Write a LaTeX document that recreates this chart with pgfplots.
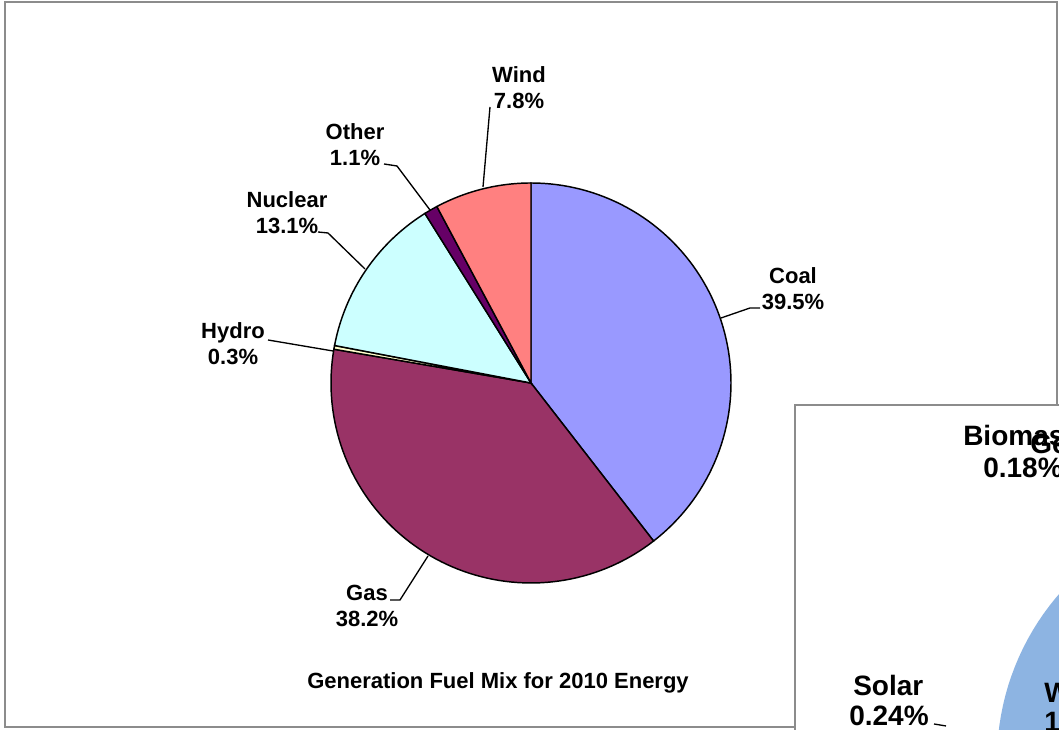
\documentclass[border=0pt]{standalone}
\usepackage{pgfplots}
\pgfplotsset{compat=1.18}
\usepackage{fontspec}
\setmainfont{Liberation Sans}
\definecolor{coal}{HTML}{9999FF}
\definecolor{gas}{HTML}{993366}
\definecolor{hydro}{HTML}{FFFFCC}
\definecolor{nuclear}{HTML}{CCFFFF}
\definecolor{other}{HTML}{660066}
\definecolor{wind}{HTML}{FF8080}
\definecolor{frame}{HTML}{8C8C8C}
\definecolor{pieblue}{HTML}{8DB4E2}
% shares (percent), clockwise from 12 o'clock
\def\vCoal{39.5}\def\vGas{38.2}\def\vHydro{0.3}
\def\vNuclear{13.1}\def\vOther{1.1}\def\vWind{7.8}
\pgfmathsetmacro\aA{90}
\pgfmathsetmacro\aB{\aA-\vCoal*3.6}
\pgfmathsetmacro\aC{\aB-\vGas*3.6}
\pgfmathsetmacro\aD{\aC-\vHydro*3.6}
\pgfmathsetmacro\aE{\aD-\vNuclear*3.6}
\pgfmathsetmacro\aF{\aE-\vOther*3.6}
\pgfmathsetmacro\aG{\aF-\vWind*3.6}
\begin{document}
\begin{tikzpicture}
\begin{axis}[
  hide axis, scale only axis,
  width=794.25pt, height=547.5pt,
  xmin=0, xmax=1059, ymin=-730, ymax=0,
  clip=true,
  every axis plot/.append style={line width=1.1pt, draw=black},
]
% first chart frame
\addplot[draw=frame, line width=1.6pt, fill=white] coordinates {(5,-2) (1057,-2) (1057,-727) (5,-727)} -- cycle;
% pie slices
\addplot[fill=coal, domain=\aB:\aA, samples=80, variable=\t] ({531+200*cos(\t)},{-383+200*sin(\t)}) -- (531,-383) -- cycle;
\addplot[fill=gas, domain=\aC:\aB, samples=80, variable=\t] ({531+200*cos(\t)},{-383+200*sin(\t)}) -- (531,-383) -- cycle;
\addplot[fill=hydro, domain=\aD:\aC, samples=5, variable=\t] ({531+200*cos(\t)},{-383+200*sin(\t)}) -- (531,-383) -- cycle;
\addplot[fill=nuclear, domain=\aE:\aD, samples=40, variable=\t] ({531+200*cos(\t)},{-383+200*sin(\t)}) -- (531,-383) -- cycle;
\addplot[fill=other, domain=\aF:\aE, samples=5, variable=\t] ({531+200*cos(\t)},{-383+200*sin(\t)}) -- (531,-383) -- cycle;
\addplot[fill=wind, domain=\aG:\aF, samples=30, variable=\t] ({531+200*cos(\t)},{-383+200*sin(\t)}) -- (531,-383) -- cycle;
% leader lines
\draw[line width=1pt] (490,-107) -- (483,-187);
\draw[line width=1pt] (384,-164) -- (397,-166) -- (430,-210);
\draw[line width=1pt] (318,-232) -- (328,-233) -- (365,-269);
\draw[line width=1pt] (268,-340) -- (333,-351);
\draw[line width=1pt] (760,-308) -- (750,-308) -- (721,-318);
\draw[line width=1pt] (390,-600) -- (400,-600) -- (428,-556);
% labels
\tikzset{lab/.style={font=\fontsize{16.5}{19.5}\selectfont\bfseries, align=center, inner sep=0pt}}
\node[lab] at (519,-88) {Wind\\7.8\%};
\node[lab] at (355,-145) {Other\\1.1\%};
\node[lab] at (287,-213) {Nuclear\\13.1\%};
\node[lab] at (233,-344) {Hydro\\0.3\%};
\node[lab] at (793,-289) {Coal\\39.5\%};
\node[lab] at (367,-606) {Gas\\38.2\%};
\node[lab] at (498,-683) {Generation Fuel Mix for 2010 Energy};
% second chart (partly visible)
\addplot[draw=frame, line width=1.6pt, fill=white] coordinates {(795,-405) (1100,-405) (1100,-760) (795,-760)} -- cycle;
\addplot[fill=pieblue, draw=none, domain=90:270, samples=80, variable=\t] ({1250+253*cos(\t)},{-760+253*sin(\t)}) -- cycle;
\tikzset{lab2/.style={font=\fontsize{21}{23}\selectfont\bfseries, inner sep=0pt, anchor=west}}
\node[lab2] at (963,-436) {Biomass};
\node[lab2] at (1030,-444) {Geothermal};
\node[lab2] at (983,-468) {0.18\%};
\node[lab2] at (853,-686) {Solar};
\node[lab2] at (849,-716) {0.24\%};
\draw[line width=1pt] (934,-724) -- (946,-726);
\node[lab2] at (1044,-693) {Wind};
\node[lab2] at (1044,-722) {12\%};
\end{axis}
\pgfresetboundingbox
\useasboundingbox (0,0) rectangle (794.25pt,547.5pt);
\end{tikzpicture}
\end{document}
